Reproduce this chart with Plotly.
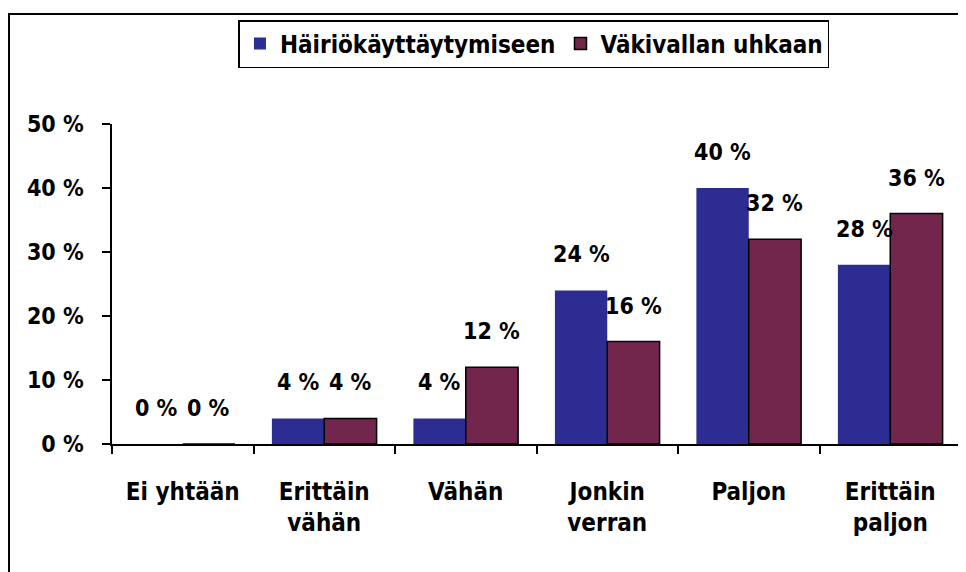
import plotly.graph_objects as go

categories = ["Ei yhtään", "Erittäin<br>vähän", "Vähän", "Jonkin<br>verran", "Paljon", "Erittäin<br>paljon"]
series_names = ["Häiriökäyttäytymiseen", "Väkivallan uhkaan"]
hairio = [0, 4, 4, 24, 40, 28]
vakivalta = [0, 4, 12, 16, 32, 36]
y_ticks = [0, 10, 20, 30, 40, 50]

FONT = "DejaVu Sans Condensed"
BLUE = "rgb(44,44,146)"
MAROON = "rgb(114,38,76)"

fig = go.Figure()
fig.add_trace(go.Bar(name=series_names[0], x=categories, y=hairio,
                     marker=dict(color=BLUE, line=dict(color=BLUE, width=0))))
fig.add_trace(go.Bar(name=series_names[1], x=categories, y=vakivalta,
                     marker=dict(color=MAROON, line=dict(color="black", width=1.5))))

annotations = []
for vals, shift in ((hairio, -26), (vakivalta, 26)):
    for c, v in zip(categories, vals):
        annotations.append(dict(x=c, y=v, xref="x", yref="y", text=f"{v} %",
                                showarrow=False, xshift=shift, yshift=36,
                                font=dict(family=FONT, size=23, color="black", weight="bold")))

# page body has an 8px margin, so the figure is sized to fit inside the window
fig.update_layout(
    width=958, height=564,
    margin=dict(l=104, r=5, t=116, b=128),
    paper_bgcolor="white", plot_bgcolor="white",
    barmode="group", bargap=0.26, bargroupgap=0,
    font=dict(family=FONT, size=23, color="black", weight="bold"),
    showlegend=True,
    legend=dict(orientation="h", x=0.497, xanchor="center", y=1.325, yanchor="top",
                bordercolor="black", borderwidth=1.5, bgcolor="white",
                font=dict(family=FONT, size=24, color="black", weight="bold"),
                traceorder="normal"),
    annotations=annotations,
    shapes=[dict(type="rect", xref="paper", yref="paper", x0=-0.1213, x1=1.2,
                 y0=-0.8, y1=1.34375, line=dict(color="black", width=2), layer="below")],
)
fig.update_xaxes(showline=True, linecolor="black", linewidth=1.5, ticks="outside",
                 ticklen=8, tickcolor="black", tickwidth=1.5, tickson="boundaries",
                 showgrid=False, ticklabelstandoff=25,
                 tickfont=dict(family=FONT, size=24, color="black", weight="bold"))
fig.update_yaxes(range=[0, 50], tickvals=y_ticks, ticktext=[f"{t} %" for t in y_ticks],
                 showline=True, linecolor="black", linewidth=1.5, ticks="outside",
                 ticklen=8, tickcolor="black", tickwidth=1.5, showgrid=False,
                 zeroline=False, ticklabelstandoff=14,
                 tickfont=dict(family=FONT, size=23, color="black", weight="bold"))

fig.write_html("out.html")
